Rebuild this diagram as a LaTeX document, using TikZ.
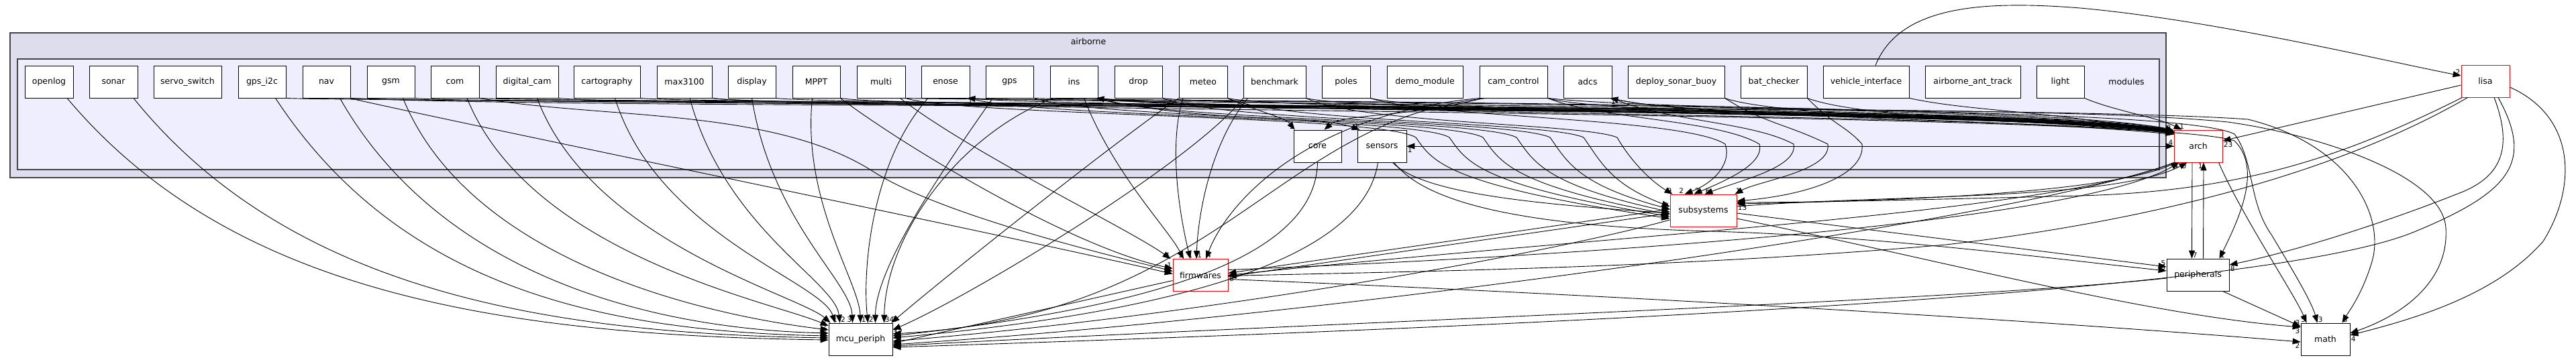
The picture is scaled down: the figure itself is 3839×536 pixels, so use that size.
\documentclass[tikz,border=0pt]{standalone}
\usepackage{fontspec}
\setmainfont{DejaVu Sans}
\usetikzlibrary{arrows.meta}
\definecolor{outerfill}{HTML}{DDDDEE}
\definecolor{innerfill}{HTML}{EEEEFF}
\definecolor{clline}{HTML}{444444}
\definecolor{reddir}{HTML}{FF0000}
\begin{document}
\begin{tikzpicture}[x=1pt,y=-1pt,
  dirbox/.style={draw=black, fill=white, line width=0.8, minimum height=48, inner sep=0, font=\fontsize{12.5}{14}\selectfont},
  redbox/.style={dirbox, draw=reddir},
  dep/.style={draw=black, line width=0.9, -{Triangle[length=12,width=9]}},
  lab/.style={font=\fontsize{10.5}{12}\selectfont, inner sep=1},
  cl/.style={font=\fontsize{12.5}{14}\selectfont, inner sep=0},
]
\useasboundingbox (0,0) rectangle (3839,536);
\fill[white] (0,0) rectangle (3839,536);
\draw[fill=outerfill, draw=clline, line width=1.1] (15,49) rectangle (3228,265);
\draw[fill=innerfill, draw=clline, line width=1.1] (26,88) rectangle (3218,253);
\node[cl] (tairborne) at (1622,62) {airborne};
\node[cl] (tmodules) at (3169,122) {modules};

% ---------- nodes
\node[dirbox, minimum width=72] (openlog) at (73,122) {openlog};
\node[dirbox, minimum width=72] (sonar) at (169,122) {sonar};
\node[dirbox, minimum width=101] (servo) at (279.5,122) {servo\_switch};
\node[dirbox, minimum width=71] (gpsi2c) at (390.5,122) {gps\_i2c};
\node[dirbox, minimum width=71] (nav) at (486.5,122) {nav};
\node[dirbox, minimum width=71] (gsm) at (582.5,122) {gsm};
\node[dirbox, minimum width=72] (com) at (678,122) {com};
\node[dirbox, minimum width=93] (dcam) at (785.5,122) {digital\_cam};
\node[dirbox, minimum width=99] (carto) at (904.5,122) {cartography};
\node[dirbox, minimum width=82] (max) at (1020,122) {max3100};
\node[dirbox, minimum width=71] (display) at (1120.5,122) {display};
\node[dirbox, minimum width=71] (mppt) at (1216.5,122) {MPPT};
\node[dirbox, minimum width=72] (multi) at (1313,122) {multi};
\node[dirbox, minimum width=72] (enose) at (1409,122) {enose};
\node[dirbox, minimum width=71] (gps) at (1504.5,122) {gps};
\node[dirbox, minimum width=71] (ins) at (1600.5,122) {ins};
\node[dirbox, minimum width=71] (drop) at (1696.5,122) {drop};
\node[dirbox, minimum width=72] (meteo) at (1793,122) {meteo};
\node[dirbox, minimum width=93] (bench) at (1899.5,122) {benchmark};
\node[dirbox, minimum width=72] (poles) at (2006,122) {poles};
\node[dirbox, minimum width=113] (demo) at (2123.5,122) {demo\_module};
\node[dirbox, minimum width=101] (camc) at (2255.5,122) {cam\_control};
\node[dirbox, minimum width=72] (adcs) at (2366,122) {adcs};
\node[dirbox, minimum width=144] (dsb) at (2498,122) {deploy\_sonar\_buoy};
\node[dirbox, minimum width=99] (batc) at (2643.5,122) {bat\_checker};
\node[dirbox, minimum width=128] (vif) at (2781,122) {vehicle\_interface};
\node[dirbox, minimum width=142] (aat) at (2940,122) {airborne\_ant\_track};
\node[dirbox, minimum width=71] (light) at (3070.5,122) {light};
\node[dirbox, minimum width=71] (core) at (1963.5,218) {core};
\node[dirbox, minimum width=73] (sensors) at (2059.5,218) {sensors};
\node[redbox, minimum width=72] (arch) at (3276,218) {arch};
\node[redbox, minimum width=99] (subsys) at (2538.5,314) {subsystems};
\node[redbox, minimum width=82] (firm) at (1789,410.5) {firmwares};
\node[dirbox, minimum width=95] (mcu) at (1282.5,506) {mcu\_periph};
\node[dirbox, minimum width=93] (periph) at (3275.5,410) {peripherals};
\node[dirbox, minimum width=73] (math) at (3465.5,506) {math};
\node[redbox, minimum width=72] (lisa) at (3704,121) {lisa};

% ---------- band of module -> arch
\foreach \src/\b/\t in {gpsi2c/152/1, nav/155/2, gsm/157/3, com/153/4, dcam/159/5, carto/156/6, max/161/2, display/158/3, mppt/163/4, multi/150/5, enose/154/6, gps/151/2, ins/165/3, drop/160/4, meteo/167/5, bench/169/6, poles/171/2, camc/173/3, adcs/175/4, dsb/177/5, batc/179/6, vif/166/7}
  \draw[dep] (\src.south east) .. controls +(90,\b-146) and +(-170,\b-194-\t) .. ([yshift=-\t]arch.north west);
\node[lab, anchor=south east] (la1) at ([xshift=-3,yshift=-2]arch.north west) {2};
\node[lab, anchor=south east] (la2) at ([xshift=-3,yshift=-6]arch.north west) {3};
\draw[dep] (light.south east) .. controls (3150,165) and (3215,175) .. ([xshift=12]arch.north west) node[lab,anchor=south]{1};

% ---------- modules -> mcu_periph
\draw[dep] ([xshift=27]openlog.south) .. controls (330,420) and (700,500) .. ([yshift=-1]mcu.west);
\draw[dep] ([xshift=30]sonar.south) .. controls (420,420) and (780,497) .. ([yshift=2]mcu.west);
\draw[dep] ([xshift=20]gpsi2c.south) .. controls (590,420) and (880,494) .. ([yshift=5]mcu.west) node[lab,anchor=south east]{1};
\draw[dep] ([xshift=20]nav.south) .. controls (650,400) and (950,490) .. ([yshift=9]mcu.west);
\draw[dep] ([xshift=18]gsm.south) .. controls (700,390) and (1050,470) .. ([yshift=14]mcu.west) node[lab,anchor=south east]{2};
\draw[dep] ([xshift=18]com.south) .. controls (790,380) and (1150,450) .. ([yshift=20]mcu.west) node[lab,anchor=south east]{1};
\draw[dep] ([xshift=15]dcam.south) .. controls (880,360) and (1190,440) .. ([xshift=3]mcu.north west);
\draw[dep] ([xshift=12]carto.south) .. controls (980,350) and (1225,420) .. ([xshift=10]mcu.north west) node[lab,anchor=south]{1};
\draw[dep] ([xshift=8]max.south) .. controls (1080,340) and (1245,420) .. ([xshift=17]mcu.north west) node[lab,anchor=south west]{2};
\draw[dep] (display.south) .. controls (1150,330) and (1268,420) .. ([xshift=-12]mcu.north) node[lab,anchor=south east]{3};
\draw[dep] ([xshift=-6]mppt.south) .. controls (1195,300) and (1280,420) .. (mcu.north) node[lab,anchor=south west]{1};
\draw[dep] ([xshift=-26]enose.south) .. controls (1300,240) and (1285,400) .. ([xshift=11]mcu.north) node[lab,anchor=south west]{2};
\draw[dep] ([xshift=-25]gps.south) .. controls (1400,260) and (1305,400) .. ([xshift=22]mcu.north);
\draw[dep] ([xshift=-30]ins.south) .. controls (1430,200) and (1320,350) .. ([xshift=35]mcu.north) node[lab,anchor=south west]{34};
\draw[dep] (meteo.south west) .. controls (1650,220) and (1400,420) .. ([xshift=-2]mcu.north east) node[lab,anchor=south west]{2};
\draw[dep] (bench.south west) .. controls (1780,240) and (1450,440) .. ([yshift=14]mcu.east) node[lab,anchor=north west]{1};
\draw[dep] ([xshift=-40]camc.south) .. controls (1900,180) and (1820,470) .. ([yshift=8]mcu.east);

% ---------- modules -> firmwares
\draw[dep] ([xshift=-2]nav.south east) .. controls (760,200) and (1450,340) .. ([yshift=2]firm.west) node[lab,anchor=south east]{4};
\draw[dep] (com.south east) .. controls (900,178) and (1150,160) .. (1300,255) .. controls (1400,320) and (1650,380) .. ([yshift=6]firm.west);
\draw[dep] (mppt.south east) .. controls (1350,220) and (1600,370) .. ([yshift=10]firm.west) node[lab,anchor=south east]{1};
\draw[dep] ([xshift=-8]multi.south east) .. controls (1450,230) and (1680,340) .. ([xshift=-3]firm.north west) node[lab,anchor=south east]{4};
\draw[dep] ([xshift=15]ins.south) .. controls (1660,260) and (1740,340) .. ([xshift=-25]firm.north) node[lab,anchor=south east]{1};
\draw[dep] ([xshift=-30]meteo.south) .. controls (1740,220) and (1760,330) .. ([xshift=-15]firm.north) node[lab,anchor=south]{1};
\draw[dep] ([xshift=-40]bench.south) .. controls (1800,220) and (1785,330) .. ([xshift=-6]firm.north) node[lab,anchor=south west]{1};
\draw[dep] ([xshift=-50]camc.south) .. controls (1950,170) and (1830,300) .. ([xshift=8]firm.north) node[lab,anchor=south west]{4};

% ---------- core / sensors
\draw[dep] (meteo.south east) .. controls (1870,165) and (1915,175) .. ([xshift=2]core.north west) node[lab,anchor=south east]{1};
\draw[dep] ([xshift=-45]camc.south) .. controls (2100,175) and (2000,170) .. ([xshift=10]core.north) node[lab,anchor=south west]{2};
\draw[dep] ([xshift=-4]ins.south east) .. controls (1800,185) and (1960,170) .. ([xshift=4]sensors.north west) node[lab,anchor=south east]{1};
\draw[dep] (sensors.east) -- (arch.west) node[lab,anchor=south east]{4};
\draw[dep] (arch.west) -- (sensors.east) node[lab,anchor=north west]{1};
\draw[dep] (core.south) .. controls (1960,390) and (1700,460) .. ([yshift=5]mcu.east) node[lab,anchor=south west]{17};
\draw[dep] ([xshift=-6]sensors.south) .. controls (2030,400) and (1700,470) .. ([yshift=2]mcu.east);
\draw[dep] ([xshift=16]sensors.south) .. controls (2120,290) and (2300,305) .. ([yshift=-4]subsys.west);
\draw[dep] ([xshift=18]sensors.south) .. controls (2130,310) and (2300,338) .. (2550,345) .. controls (2800,352) and (3050,385) .. ([yshift=6]periph.west) node[lab,anchor=south east]{5};

% ---------- S-curves into subsystems
\draw[dep] (multi.south east) .. controls +(80,26) and (2060,172) .. (2110,205) .. controls (2135,240) and (2150,275) .. ([yshift=-12]subsys.west);
\draw[dep] (enose.south east) .. controls +(80,28) and (2110,174) .. (2160,205) .. controls (2185,240) and (2200,275) .. ([yshift=-9]subsys.west);
\draw[dep] (gps.south east) .. controls +(80,30) and (2160,176) .. (2210,205) .. controls (2235,240) and (2250,275) .. ([yshift=-6]subsys.west);
\draw[dep] (ins.south east) .. controls +(80,32) and (2210,178) .. (2260,205) .. controls (2285,240) and (2300,275) .. ([yshift=-2]subsys.west);
\draw[dep] (drop.south east) .. controls +(80,34) and (2260,180) .. (2310,205) .. controls (2335,240) and (2350,275) .. ([yshift=2]subsys.west) node[lab,anchor=south east]{3};
\draw[dep] (meteo.south east) .. controls +(80,36) and (2310,182) .. (2360,205) .. controls (2385,240) and (2400,275) .. ([yshift=6]subsys.west);
\draw[dep] (bench.south east) .. controls +(80,38) and (2360,184) .. (2410,205) .. controls (2430,240) and (2460,270) .. ([xshift=4]subsys.north west) node[lab,anchor=south east]{9};
\draw[dep] (poles.south east) .. controls +(80,29) and (2510,175) .. (2571,215) .. controls (2580,240) and (2560,270) .. ([xshift=-28]subsys.north) node[lab,anchor=south east]{2};
\draw[dep] (camc.south east) .. controls +(80,32) and (2560,178) .. (2622,215) .. controls (2630,245) and (2570,270) .. ([xshift=-14]subsys.north) node[lab,anchor=south west]{2};
\draw[dep] (adcs.south east) .. controls +(80,35) and (2610,181) .. (2673,215) .. controls (2680,250) and (2590,270) .. ([xshift=2]subsys.north) node[lab,anchor=south west]{6};
\draw[dep] (dsb.south east) .. controls +(60,38) and (2660,184) .. (2724,215) .. controls (2730,255) and (2620,270) .. ([xshift=-3]subsys.north east) node[lab,anchor=south west]{1};
\draw[dep] (batc.south east) .. controls +(40,41) and (2750,187) .. (2775,215) .. controls (2780,260) and (2700,290) .. ([yshift=14]subsys.east);

% ---------- lower region
\draw[dep] ([yshift=2]subsys.west) -- ([yshift=3]firm.east);
\draw[dep] ([yshift=-2]firm.east) -- ([yshift=-4]subsys.west) node[lab,anchor=north east]{53};
\draw[dep] ([yshift=-14]subsys.west) .. controls (2300,380) and (1800,470) .. ([yshift=-3]mcu.east);
\draw[dep] ([yshift=6]subsys.east) .. controls (2800,290) and (3150,300) .. ([xshift=20]arch.south west) node[lab,anchor=north east]{0};
\draw[dep] ([xshift=4]arch.south west) .. controls (3150,290) and (2800,300) .. ([yshift=10]subsys.east) node[lab,anchor=north west]{13};
\draw[dep] ([yshift=-4]subsys.east) -- ([yshift=12]periph.west) node[lab,anchor=south east]{5};
\draw[dep] ([yshift=-12]subsys.east) .. controls (2900,390) and (3200,470) .. ([yshift=18]math.west) node[lab,anchor=north east]{3};
\draw[dep] (arch.south west) .. controls (3050,320) and (2400,350) .. (firm.east) node[lab,anchor=north west]{6};
\draw[dep] ([xshift=10]lisa.south west) .. controls (3480,260) and (3200,330) .. (2900,365) .. controls (2500,400) and (2100,405) .. ([yshift=-1]firm.east);
\draw[dep] ([yshift=-6]firm.east) .. controls (2400,440) and (3000,475) .. ([yshift=-4]math.west) node[lab,anchor=north east]{2};
\draw[dep] ([yshift=-8]firm.west) -- ([yshift=-6]mcu.east);
\draw[dep] ([yshift=8]firm.east) .. controls (2400,380) and (3100,330) .. ([xshift=8]arch.south west) node[lab,anchor=north east]{4};
\draw[dep] ([xshift=2]arch.south west) .. controls (3000,330) and (2000,470) .. ([yshift=-8]mcu.east);
\draw[dep] ([xshift=-9]arch.south) -- ([xshift=-9]periph.north) node[lab,anchor=south west]{7};
\draw[dep] ([xshift=8]periph.north) -- ([xshift=8]arch.south) node[lab,anchor=north east]{1};
\draw[dep] ([xshift=-6]arch.south east) .. controls (3340,320) and (3420,440) .. ([xshift=-28]math.north) node[lab,anchor=south east]{5};
\draw[dep] ([xshift=-10]periph.south east) -- ([yshift=19]math.west) node[lab,anchor=south east]{3};
\draw[dep] ([yshift=-5]periph.west) .. controls (2900,450) and (2000,480) .. ([yshift=-10]mcu.east);

% ---------- lisa
\draw[dep] ([yshift=-6]lisa.west) -- ([yshift=8]arch.east) node[lab,anchor=north west]{23};
\draw[dep] ([xshift=2]lisa.south west) .. controls (3500,230) and (3350,285) .. (3100,292) .. controls (2900,297) and (2700,302) .. ([yshift=12]subsys.east);
\draw[dep] ([xshift=13]lisa.south) .. controls (3745,220) and (3730,265) .. (3660,290) .. controls (3560,330) and (3420,375) .. ([yshift=15]periph.east) node[lab,anchor=north west]{8};
\draw[dep] ([xshift=19]lisa.south) .. controls (3775,240) and (3745,285) .. (3600,345) .. controls (3400,430) and (2500,480) .. ([yshift=-12]mcu.east);
\draw[dep] ([yshift=-9]lisa.east) .. controls (3840,175) and (3840,280) .. (3790,360) .. controls (3720,440) and (3600,475) .. ([yshift=6]math.east) node[lab,anchor=north west]{4};
\draw[dep] ([xshift=14]vif.north) .. controls (2830,10) and (2950,0) .. (3100,12) .. controls (3300,30) and (3550,90) .. ([yshift=8]lisa.west) node[lab,anchor=south east]{2};

% ---------- long band edges past arch
\draw[dep] (ins.south east) .. controls (1900,172) and (3000,150) .. (3320,182) .. controls (3450,200) and (3640,260) .. (3645,340) .. controls (3650,420) and (3580,470) .. ([yshift=9]math.east);
\draw[dep] (nav.south east) .. controls (900,165) and (3000,152) .. (3350,178) .. controls (3500,215) and (3555,320) .. (3535,390) .. controls (3520,440) and (3500,465) .. ([xshift=25]math.north) node[lab,anchor=south west]{3};
\draw[dep] (camc.south east) .. controls (2500,168) and (3250,160) .. (3330,200) .. controls (3360,240) and (3350,300) .. (3385,350) .. controls (3415,400) and (3445,450) .. ([xshift=-12]math.north) node[lab,anchor=south west]{3};
\draw[dep] (max.south east) .. controls (1200,165) and (3200,165) .. (3330,210) .. controls (3370,250) and (3340,320) .. ([xshift=-15]periph.north east) node[lab,anchor=south west]{1};

% ---------- arch back to modules
\draw[dep] ([yshift=-3]arch.north west) .. controls (3000,165) and (1600,160) .. ([xshift=-4]enose.south east) node[lab,anchor=north west]{1};
\draw[dep] ([yshift=-5]arch.north west) .. controls (3000,170) and (1800,168) .. ([xshift=-3]ins.south east);
\draw[dep] ([yshift=-7]arch.north west) .. controls (3000,175) and (2550,178) .. ([xshift=-3]adcs.south east) node[lab,anchor=north west]{1};
\end{tikzpicture}
\end{document}
